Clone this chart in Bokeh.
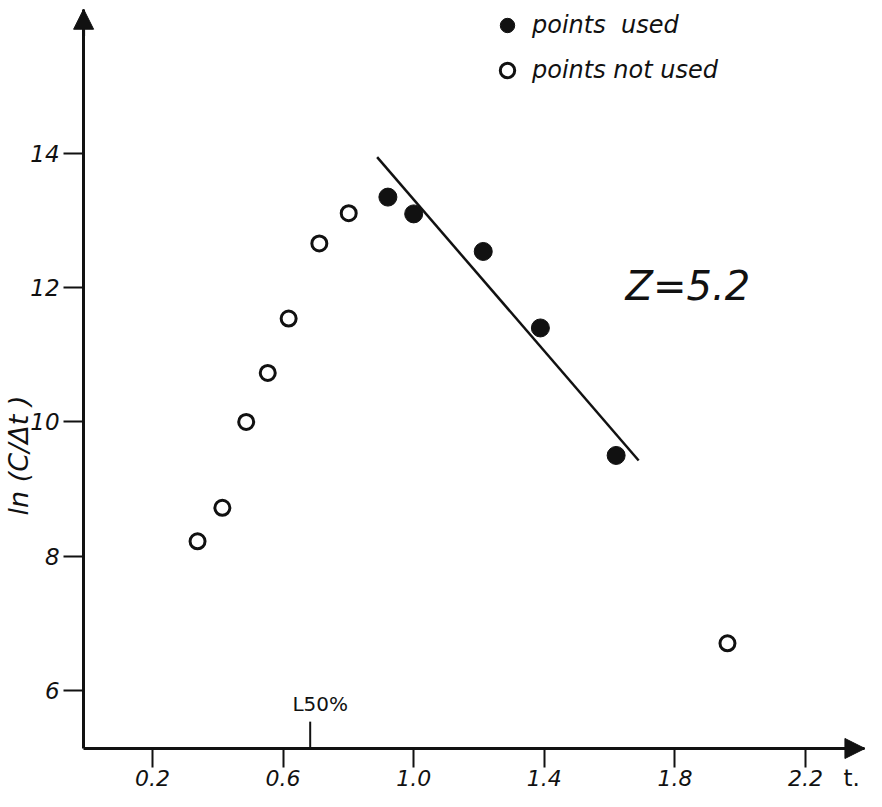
import math
from bokeh.plotting import figure
from bokeh.models import (Range1d, FixedTicker, Label, Arrow, NormalHead,
                          Legend, LegendItem, ColumnDataSource, PrintfTickFormatter)
from bokeh.embed import file_html
from bokeh.resources import INLINE

# ---- data ----
x_ticks = [0.2, 0.6, 1.0, 1.4, 1.8, 2.2]
y_ticks = [6, 8, 10, 12, 14]

used_t = [0.921, 1.000, 1.213, 1.388, 1.620]
used_lnc = [13.35, 13.10, 12.54, 11.40, 9.50]

notused_t = [0.338, 0.414, 0.487, 0.553, 0.617, 0.711, 0.801, 1.961]
notused_lnc = [8.22, 8.72, 10.00, 10.73, 11.54, 12.66, 13.11, 6.70]

fit_t = [0.888, 1.689]
fit_lnc = [13.945, 9.425]

l50_t = 0.683
z_text = "Z=5.2"

# axis origin / ends (data units)
AX_X0, AX_X1 = -0.011, 2.382
AX_Y0, AX_Y1 = 5.133, 16.15

FONT = "DejaVu Sans"
INK = "#111111"

p = figure(width=866, height=791,
           x_range=Range1d(-0.2655, 2.3868), y_range=Range1d(4.492, 16.280),
           output_backend="svg", toolbar_location=None,
           min_border_left=0, min_border_right=0, min_border_top=0, min_border_bottom=0)
p.outline_line_color = None
p.grid.visible = False
p.background_fill_color = "white"

p.xaxis.ticker = FixedTicker(ticks=x_ticks)
p.yaxis.ticker = FixedTicker(ticks=y_ticks)
p.xaxis.formatter = PrintfTickFormatter(format="%.1f")
p.yaxis.formatter = PrintfTickFormatter(format="%d")
p.xaxis.fixed_location = AX_Y0
p.yaxis.fixed_location = AX_X0
p.xaxis.bounds = (AX_X0, AX_X1)
p.yaxis.bounds = (AX_Y0, AX_Y1)
for ax in (p.xaxis, p.yaxis):
    ax.axis_line_width = 3
    ax.axis_line_color = INK
    ax.major_tick_line_width = 2
    ax.major_tick_line_color = INK
    ax.major_tick_in = 0
    ax.minor_tick_line_color = None
    ax.major_label_text_font = FONT
    ax.major_label_text_font_style = "italic"
    ax.major_label_text_color = INK
p.xaxis.major_tick_out = 19
p.xaxis.major_label_standoff = 3
p.xaxis.major_label_text_font_size = "22px"
p.yaxis.major_tick_out = 20
p.yaxis.major_label_standoff = 4
p.yaxis.major_label_text_font_size = "23px"

# axis arrow heads
p.add_layout(Arrow(end=NormalHead(size=20, fill_color=INK, line_color=INK, line_width=1),
                   x_start=AX_X1 - 0.06, y_start=AX_Y0, x_end=AX_X1, y_end=AX_Y0,
                   line_width=3, line_color=INK))
p.add_layout(Arrow(end=NormalHead(size=20, fill_color=INK, line_color=INK, line_width=1),
                   x_start=AX_X0, y_start=AX_Y1 - 0.4, x_end=AX_X0, y_end=AX_Y1,
                   line_width=3, line_color=INK))

# fitted line
p.line(fit_t, fit_lnc, line_width=2.5, line_color=INK)

# points
src_used = ColumnDataSource(dict(t=used_t, v=used_lnc))
src_not = ColumnDataSource(dict(t=notused_t, v=notused_lnc))
r_used = p.scatter("t", "v", source=src_used, size=18, marker="circle",
                   fill_color=INK, line_color=INK, line_width=1)
r_not = p.scatter("t", "v", source=src_not, size=15, marker="circle",
                  fill_color="white", line_color=INK, line_width=3)

# L50% mark
p.segment(x0=[l50_t], y0=[AX_Y0], x1=[l50_t], y1=[AX_Y0 + 0.40], line_width=2, line_color=INK)
p.add_layout(Label(x=l50_t, y=5.79, text="L50%", text_font=FONT, text_font_size="20px",
                   text_color=INK, text_align="center", text_baseline="alphabetic", x_offset=10))

# Z label
p.add_layout(Label(x=1.649, y=12.03, text=z_text, text_font=FONT, text_font_size="40px",
                   text_font_style="italic", text_color=INK, text_baseline="alphabetic"))

# axis titles
p.add_layout(Label(x=-0.21, y=9.5, text="ln (C/\u0394t )", angle=math.pi / 2,
                   text_font=FONT, text_font_size="27px", text_font_style="italic",
                   text_color=INK, text_align="center", text_baseline="middle"))
p.add_layout(Label(x=2.316, y=4.693, text="t.", text_font=FONT, text_font_size="23px",
                   text_color=INK, text_align="left", text_baseline="alphabetic"))

legend = Legend(items=[LegendItem(label="points  used", renderers=[r_used]),
                       LegendItem(label="points not used", renderers=[r_not])],
                location=(489, 703), orientation="vertical",
                border_line_color=None, background_fill_alpha=0,
                glyph_width=36, glyph_height=36, label_height=36, spacing=9,
                padding=0, margin=0, label_standoff=7,
                label_text_font=FONT, label_text_font_style="italic",
                label_text_font_size="24px", label_text_color=INK)
p.add_layout(legend)

open("out.html", "w").write(file_html(p, INLINE))
